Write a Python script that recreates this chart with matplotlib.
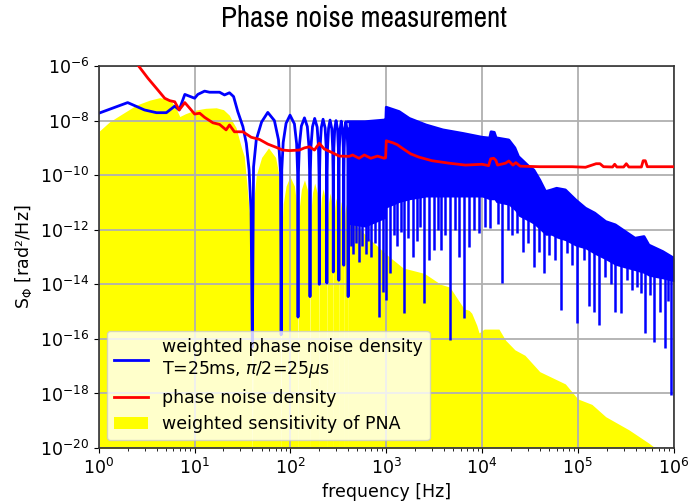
import numpy as np
import matplotlib
matplotlib.use('Agg')
import matplotlib.pyplot as plt
from matplotlib import font_manager
from matplotlib.lines import Line2D
from matplotlib.patches import Patch
from matplotlib.ticker import NullLocator

# all levels are log10 of S_phi in rad^2/Hz

# red: measured phase noise density
pn_freq = [2.4, 2.63, 3.26, 4.0, 4.87, 5.5, 6.2, 6.9, 7.9, 8.9, 10, 11.3, 12.7, 15.5, 18.2,
           21.3, 23.1, 26, 31.9, 38.9, 47.5, 58, 71, 83, 97, 124, 140, 158, 178, 200, 225,
           275, 322, 410, 445, 520, 590, 690, 810, 950, 985, 1000, 1165, 1300, 1480, 1800,
           2200, 3000, 4500, 6700, 10000, 11700, 12300, 13200, 13900, 14500, 17600, 19000,
           21000, 22500, 25000, 40000, 87000, 120000, 155000, 170000, 185000, 230000,
           242000, 255000, 300000, 320000, 340000, 460000, 480000, 505000, 530000, 1000000]
pn_log = [-5.85, -6.02, -6.45, -6.82, -7.18, -7.27, -7.31, -7.61, -7.34, -7.55, -7.76, -7.73,
          -7.88, -8.08, -8.14, -8.34, -8.16, -8.41, -8.41, -8.61, -8.69, -8.86, -8.98, -9.08,
          -9.10, -9.08, -9.0, -8.96, -9.08, -8.83, -9.04, -9.18, -9.30, -9.31, -9.26, -9.38,
          -9.26, -9.38, -9.30, -9.38, -9.36, -8.74, -8.81, -8.88, -9.02, -9.22, -9.34, -9.47,
          -9.56, -9.63, -9.60, -9.65, -9.40, -9.38, -9.45, -9.63, -9.56, -9.48, -9.63, -9.54,
          -9.67, -9.69, -9.69, -9.71, -9.58, -9.58, -9.69, -9.70, -9.60, -9.70, -9.70, -9.58,
          -9.70, -9.70, -9.47, -9.47, -9.69, -9.69]

# blue: weighted phase noise, single resolved lobes below 400 Hz
blue_freq = [1, 2.0, 3.0, 4.0, 5.07, 6.2, 6.9, 7.9, 10, 10.8, 12.7, 14.3, 18.2, 20.5, 23.1,
             25.5, 28.2, 31.9, 34.6, 37, 38.8, 40,
             41.2, 44, 50, 58, 68, 75, 78.8, 80,
             81.2, 84, 90, 99, 110, 116, 118.8, 120,
             121.2, 124, 130, 140, 150, 156, 158.8, 160,
             161.2, 164, 170, 179, 190, 196, 198.8, 200,
             201.2, 204, 210, 219, 230, 236, 238.8, 240,
             241.2, 244, 250, 259, 270, 276, 278.8, 280,
             281.2, 284, 290, 299, 310, 316, 318.8, 320,
             321.2, 324, 330, 339, 350, 356, 358.8, 360,
             361.2, 364, 370, 379, 390, 396, 398.8, 400,
             401.2, 404, 410]
blue_log = [-7.73, -7.34, -7.61, -7.71, -7.71, -7.47, -7.61, -7.04, -7.18, -7.04, -6.92, -6.96,
            -6.96, -7.06, -6.98, -7.12, -7.67, -8.22, -8.83, -9.8, -11.3, -16.3,
            -9.7, -8.7, -8.05, -7.7, -8.0, -8.7, -9.9, -15.85,
            -9.8, -8.8, -8.1, -7.8, -8.12, -8.85, -9.9, -15.2,
            -9.9, -8.9, -8.2, -7.9, -8.22, -8.95, -10.0, -14.45,
            -9.92, -8.92, -8.22, -7.92, -8.24, -8.95, -10.0, -14.0,
            -9.95, -8.95, -8.25, -7.95, -8.27, -8.98, -10.0, -13.95,
            -9.98, -8.98, -8.28, -7.98, -8.3, -9.0, -10.0, -13.55,
            -10.0, -9.0, -8.3, -8.0, -8.32, -9.0, -10.0, -13.85,
            -10.0, -9.0, -8.32, -8.02, -8.34, -9.0, -10.0, -13.3,
            -10.0, -9.0, -8.34, -8.04, -8.36, -9.0, -10.0, -14.45,
            -10.0, -9.0, -8.3]

# blue above 400 Hz: lobes too dense to resolve -> band between upper and lower edge
band_freq = [400, 600, 950, 990, 1000, 1365, 1740, 2600, 3900, 6300, 10000, 12000, 12400,
             13400, 14000, 19000, 22000, 24000, 31000, 34700, 40000, 46000, 53000, 60000,
             74000, 95000, 120000, 150000, 195000, 246000, 310000, 395000, 490000, 550000,
             770000, 1000000]
band_top = [-8.04, -8.04, -7.98, -7.98, -7.51, -7.67, -7.92, -8.16, -8.34, -8.47, -8.61, -8.64,
            -8.41, -8.43, -8.63, -8.71, -9.0, -9.32, -9.69, -9.81, -10.18, -10.6, -10.54,
            -10.48, -10.54, -10.91, -11.21, -11.39, -11.70, -11.82, -12.06, -12.31, -12.25,
            -12.56, -12.8, -13.04]
band_low = [-11.8, -11.9, -11.6, -11.6, -11.2, -11.0, -10.9, -10.8, -10.8, -10.8, -10.8, -10.9,
            -10.9, -10.9, -11.0, -11.1, -11.3, -11.5, -11.7, -11.8, -12.0, -12.2, -12.2, -12.3,
            -12.4, -12.6, -12.7, -12.9, -13.1, -13.3, -13.4, -13.5, -13.6, -13.7, -13.8, -13.9]

# deep notches sticking out below the band
spike_freq = [430, 450, 480, 520, 560, 610, 650, 700, 760, 832, 915, 993, 1093, 1200, 1300,
              1420, 1540, 1700, 1880, 2100, 2250, 2450, 2810, 3160, 3450, 3710, 4100, 4640,
              5200, 5760, 6490, 7320, 8200, 9300, 10700, 12000, 14800, 16300, 18500, 20500,
              23300, 26700, 30000, 34700, 39000, 44200, 49900, 57000, 66000, 77500, 87000,
              98000, 115000, 130000, 147000, 168000, 194000, 220000, 246000, 279000, 325000,
              370000, 415000, 460000, 507000, 560000, 617000, 724000, 818000, 880000, 944000]
spike_log = [-12.6, -12.9, -12.5, -13.2, -12.6, -12.9, -12.4, -13.0, -12.5, -15.18, -14.27,
             -14.57, -13.59, -12.2, -12.6, -12.1, -15.06, -12.3, -12.99, -12.4, -11.9, -14.69,
             -13.1, -12.74, -12.0, -12.74, -12.2, -16.04, -12.0, -12.99, -15.24, -12.62,
             -12.0, -12.13, -11.9, -11.95, -11.8, -13.96, -12.0, -12.2, -12.13, -12.8, -12.5,
             -13.35, -12.8, -13.59, -12.92, -13.1, -14.94, -12.86, -13.3, -15.42, -13.1,
             -14.81, -15.0, -15.49, -13.72, -14.0, -15.0, -15.06, -13.84, -14.2, -14.08,
             -14.3, -15.77, -14.4, -16.1, -15.0, -16.35, -14.6, -18.05]

# yellow: weighted sensitivity of the PNA (nulls at multiples of 40 Hz)
sens_freq = [1, 1.3, 1.8, 2.47, 3.4, 4.3, 5.5, 6.3, 7.0, 8.0, 10, 13, 16.8, 20, 23, 25, 27,
             30.6, 33, 34.5, 37.6, 39.5, 40,
             41.2, 44, 50, 59, 70, 76, 78.8, 80,
             81.2, 84, 90, 99, 110, 116, 118.8, 120,
             121.2, 124, 130, 140, 150, 156, 158.8, 160,
             161.2, 164, 170, 179, 190, 196, 198.8, 200,
             201.2, 204, 210, 219, 230, 236, 238.8, 240,
             241.2, 244, 250, 259, 270, 276, 278.8, 280,
             281.2, 284, 290, 299, 310, 316, 318.8, 320,
             321.2, 324, 330, 339, 350, 356, 358.8, 360,
             361.2, 364, 370, 379, 390, 396, 398.8, 400,
             401.2, 405, 500, 700, 1000, 1500, 2500, 3700, 4600, 5700, 6500, 7300, 7800, 8800,
             9300, 10500, 15000, 17600, 22000, 28000, 40000, 74000, 100000, 140000, 195000,
             340000, 550000, 700000, 1000000]
sens_log = [-8.4, -8.04, -7.73, -7.43, -7.25, -7.16, -7.22, -7.5, -7.85, -7.75, -7.62, -7.55,
            -7.53, -7.6, -7.8, -8.05, -8.25, -8.95, -9.32, -10.05, -11.5, -14.0, -21,
            -11.0, -10.0, -9.35, -9.0, -9.35, -10.0, -11.0, -21,
            -12.05, -11.05, -10.4, -10.05, -10.4, -11.05, -12.05, -21,
            -12.17, -11.17, -10.52, -10.17, -10.52, -11.17, -12.17, -21,
            -12.29, -11.29, -10.64, -10.29, -10.64, -11.29, -12.29, -21,
            -12.5, -11.5, -10.85, -10.5, -10.85, -11.5, -12.5, -21,
            -12.65, -11.65, -11.0, -10.65, -11.0, -11.65, -12.65, -21,
            -12.83, -11.83, -11.18, -10.83, -11.18, -11.83, -12.83, -21,
            -12.96, -11.96, -11.31, -10.96, -11.31, -11.96, -12.96, -21,
            -13.05, -12.05, -11.4, -11.05, -11.4, -12.05, -13.05, -21,
            -12.0, -11.3, -11.9, -12.4, -12.9, -13.4, -13.6, -14.0, -14.1, -14.6, -14.9, -14.95,
            -15.06, -15.5, -15.78, -15.64, -15.64, -16.05, -16.4, -16.6, -17.2, -17.65, -18.2,
            -18.4, -18.85, -19.33, -19.82, -20.1, -20.5]


def lin(v):
    return 10.0 ** np.asarray(v, dtype=float)


def narrow_font():
    # the slide title uses a condensed face; take one if any is installed
    for f in font_manager.fontManager.ttflist:
        if ('Narrow' in f.name or 'Condensed' in f.name) and f.weight in (400, 'normal', 'regular') \
                and f.style == 'normal':
            return font_manager.FontProperties(fname=f.fname)
    for f in font_manager.fontManager.ttflist:
        if f.stretch in ('condensed', 'semi-condensed', 'extra-condensed') and f.style == 'normal':
            return font_manager.FontProperties(fname=f.fname)
    return None


fig = plt.figure(figsize=(6.91, 5.04), dpi=100)
ax = fig.add_axes([0.143, 0.111, 0.832, 0.758])

blue = '#0000ff'
ax.fill_between(sens_freq, 1e-22, lin(sens_log), color='#ffff00', lw=0, zorder=1)

ax.plot(blue_freq, lin(blue_log), color=blue, lw=2, zorder=2)
ax.fill_between(band_freq, lin(band_low), lin(band_top), color=blue, lw=0, zorder=2)
ax.plot(band_freq, lin(band_top), color=blue, lw=2, zorder=2)
# notches start inside the band
start = np.interp(np.log10(spike_freq), np.log10(band_freq), band_low) + 0.3
ax.vlines(spike_freq, lin(spike_log), lin(start), color=blue, lw=1.8, zorder=2)

ax.plot(pn_freq, lin(pn_log), color='#ff0000', lw=2, zorder=3)

ax.set_xscale('log')
ax.set_yscale('log')
ax.set_xlim(1, 1e6)
ax.set_ylim(1e-20, 1e-6)
ax.set_yticks([10.0 ** k for k in range(-20, -5, 2)])
ax.yaxis.set_minor_locator(NullLocator())
ax.grid(True, which='major', color='#b0b0b0', lw=1.3)
ax.tick_params(labelsize=12.5)
for s in ax.spines.values():
    s.set_linewidth(1.2)
    s.set_color('#333333')

ax.set_xlabel('frequency [Hz]', fontsize=12.5)
ax.set_ylabel('S$_\\Phi$ [rad²/Hz]', fontsize=12.5)

handles = [Line2D([], [], color=blue, lw=2),
           Line2D([], [], color='#ff0000', lw=2),
           Patch(facecolor='#ffff00', edgecolor='none')]
labels = ['weighted phase noise density\nT=25ms, $\\pi/2$=25$\\mu$s',
          'phase noise density',
          'weighted sensitivity of PNA']
ax.legend(handles, labels, loc='lower left', fontsize=12.5, borderaxespad=0.45)

fp = narrow_font()
if fp is not None:
    fp.set_size(21)
    fig.text(0.527, 0.963, 'Phase noise measurement', ha='center', va='center',
             fontproperties=fp)
else:
    fig.text(0.527, 0.963, 'Phase noise measurement', ha='center', va='center',
             fontsize=17, family='Roboto')

fig.savefig('out.png', dpi=100)
